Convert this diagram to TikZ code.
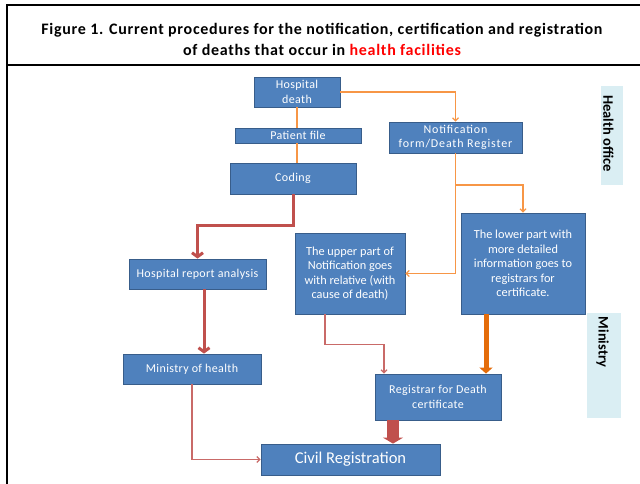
\documentclass[tikz,border=0pt]{standalone}
\usepackage{fontspec}
\setmainfont{Carlito}
\usetikzlibrary{arrows.meta}
\definecolor{boxblue}{HTML}{4F81BD}
\definecolor{boxedge}{HTML}{385D8A}
\definecolor{flowred}{HTML}{C0504D}
\definecolor{floworange}{HTML}{F79646}
\definecolor{darkorange}{HTML}{E46C0A}
\definecolor{paleblue}{HTML}{DAEEF3}
\definecolor{titlered}{HTML}{FF0000}

\begin{document}
\begin{tikzpicture}[x=1pt,y=-1pt,
  blk/.style={draw=boxedge,line width=0.8pt,fill=boxblue,text=white,align=center,
    inner sep=0pt,font=\fontsize{12}{14.5}\selectfont\addfontfeatures{LetterSpace=3}},
  wide/.style={font=\fontsize{12.3}{14.6}\selectfont},
  side/.style={fill=paleblue,inner sep=0pt},
  sidetxt/.style={rotate=-90,inner sep=0pt,font=\fontsize{14.5}{16}\selectfont\bfseries},
  thinor/.style={draw=floworange,line width=1.2pt,-{Straight Barb[length=3pt,width=6pt]}},
  thinred/.style={draw=flowred!85,line width=1.2pt,-{Straight Barb[length=3pt,width=6pt]}},
  thickred/.style={draw=flowred,line width=3pt,-{Straight Barb[length=4pt,width=11pt]}}]
\useasboundingbox (0,0) rectangle (640,484);
% frame and title
\draw[line width=2pt] (7,484) -- (7,5) -- (640,5);
\draw[line width=1.5pt] (7,65) -- (640,65);
\node[font=\fontsize{16}{21}\selectfont\bfseries\addfontfeatures{LetterSpace=4.5},align=center] (title) at (322,39.5)
  {Figure 1. Current procedures for the notification, certification and registration\\
   of deaths that occur in \textcolor{titlered}{health facilities}};

% side labels
\node[side,minimum width=22,minimum height=99] (hoffice) at (612,135.5) {};
\node[sidetxt] (hofficetxt) at (608.5,133.5) {Health office};
\node[side,minimum width=34,minimum height=105] (ministry) at (604,365.5) {};
\node[sidetxt] (ministrytxt) at (602.5,342) {Ministry};

% boxes
\node[blk,minimum width=86,minimum height=30] (hdeath) at (297,92) {Hospital\\death};
\node[blk,minimum width=126,minimum height=15] (pfile) at (298,135.5) {Patient file};
\node[blk,minimum width=126,minimum height=31] (coding) at (293,178.5) {Coding};
\node[blk,minimum width=133,minimum height=31,
  font=\fontsize{12}{14.5}\selectfont\addfontfeatures{LetterSpace=7}] (notif) at (455.5,137.5)
  {Notification\\form/Death Register};
\node[blk,minimum width=137,minimum height=30] (hra) at (197.5,274) {Hospital report analysis};
\node[blk,wide,minimum width=110,minimum height=81] (upper) at (350,273.5)
  {The upper part of\\Notification goes\\with relative (with\\cause of death)};
\node[blk,wide,minimum width=124,minimum height=101] (lower) at (523,263.5)
  {The lower part with\\more detailed\\information goes to\\registrars for\\certificate.};
\node[blk,minimum width=138,minimum height=30] (moh) at (192,369) {Ministry of health};
\node[blk,minimum width=126,minimum height=46] (regis) at (438,397) {Registrar for Death\\certificate};
\node[blk,minimum width=179,minimum height=31,font=\fontsize{16.5}{18}\selectfont] (civil) at (350.5,459.5) {Civil Registration};

% connectors
\coordinate (split) at (455.5,185);
\draw[draw=floworange,line width=1.5pt] (hdeath.south) -- (hdeath.south |- pfile.north);
\draw[draw=floworange,line width=1.5pt] (hdeath.south |- pfile.south) -- (hdeath.south |- coding.north);
\draw[thinor] (hdeath.east) -| (notif.north);
\draw[thinor] (notif.south) -- (split) -| (lower.north);
\draw[thinor] (split) |- (upper.east);
\draw[thickred] (coding.south) -- ++(0,31) -| (hra.north);
\draw[thickred] ([xshift=6.5pt]hra.south) -- ([xshift=6.5pt]hra.south |- moh.north);
\draw[thinred] ([xshift=-25pt]upper.south) -- ++(0,30) -| ([xshift=-54pt]regis.north);
\draw[draw=darkorange,line width=5pt,-{Triangle[length=6pt,width=13pt]}]
  ([xshift=-37pt]lower.south) -- ([xshift=-37pt]lower.south |- regis.north);
\draw[thinred] (moh.south) |- (civil.west);
\draw[draw=flowred,line width=12pt,-{Triangle[length=6pt,width=20pt]}]
  ([xshift=-45pt]regis.south) -- ([xshift=-45pt]regis.south |- civil.north);
\end{tikzpicture}
\end{document}
